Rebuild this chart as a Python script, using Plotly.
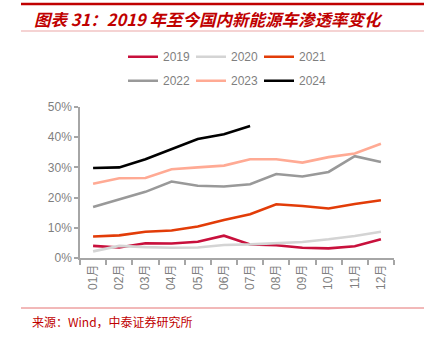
import plotly.graph_objects as go

# Monthly NEV penetration rate in China, %
months = ["01月", "02月", "03月", "04月", "05月", "06月",
          "07月", "08月", "09月", "10月", "11月", "12月"]
rate_2019 = [4.0, 3.5, 4.9, 4.8, 5.4, 7.4, 4.5, 4.2, 3.4, 3.2, 3.9, 6.2]
rate_2020 = [2.2, 4.0, 3.6, 3.4, 3.5, 4.3, 4.5, 4.9, 5.3, 6.2, 7.3, 8.7]
rate_2021 = [7.1, 7.5, 8.7, 9.1, 10.4, 12.6, 14.5, 17.8, 17.2, 16.4, 17.9, 19.1]
rate_2022 = [16.9, 19.3, 21.9, 25.3, 23.9, 23.7, 24.4, 27.8, 27.0, 28.5, 33.7, 31.8]
rate_2023 = [24.6, 26.4, 26.5, 29.4, 30.0, 30.6, 32.7, 32.7, 31.6, 33.4, 34.6, 37.8]
rate_2024 = [29.8, 30.0, 32.7, 36.0, 39.4, 41.0, 43.7]

series = [
    ("2019", rate_2019, "#C8103C", "legend"),
    ("2020", rate_2020, "#D4D4D4", "legend"),
    ("2021", rate_2021, "#E23C08", "legend"),
    ("2022", rate_2022, "#999999", "legend2"),
    ("2023", rate_2023, "#FFAA94", "legend2"),
    ("2024", rate_2024, "#000000", "legend2"),
]

W, H = 431, 338
fig = go.Figure()
for name, vals, color, lg in series:
    fig.add_trace(go.Scatter(
        x=months[:len(vals)], y=vals, name=name, mode="lines",
        line=dict(color=color, width=2.6), legend=lg,
    ))

grey = "#7F7F7F"
axis_line = "#A6A6A6"
base_font = dict(family="Liberation Sans, Arial, sans-serif", size=12, color=grey)

legend_common = dict(
    orientation="h", xref="container", yref="container",
    xanchor="left", yanchor="middle", font=base_font,
    bgcolor="rgba(0,0,0,0)", entrywidth=23, entrywidthmode="pixels",
    tracegroupgap=0, itemwidth=30,
)

fig.update_layout(
    width=W, height=H,
    margin=dict(l=80, r=37, t=107, b=80, autoexpand=False),
    paper_bgcolor="white", plot_bgcolor="white",
    font=base_font,
    showlegend=True,
    legend=dict(**legend_common, x=123 / W, y=1 - 56.7 / H),
    legend2=dict(**legend_common, x=123 / W, y=1 - 80.7 / H),
    xaxis=dict(
        type="category", categoryorder="array", categoryarray=months,
        range=[-0.5, 11.5], tickangle=-90, tickson="boundaries",
        ticks="outside", ticklen=5, tickcolor=axis_line, tickwidth=1.5,
        showline=True, linecolor=axis_line, linewidth=1.5,
        showgrid=False, tickfont=dict(family="Liberation Sans, Noto Sans CJK SC", size=12, color=grey),
    ),
    yaxis=dict(
        range=[0, 50], dtick=10, ticksuffix="%",
        ticks="outside", ticklen=4, tickcolor=axis_line, tickwidth=1.5,
        showline=True, linecolor=axis_line, linewidth=1.5,
        showgrid=False, zeroline=False,
        tickfont=dict(family="Liberation Sans, Arial", size=12, color=grey),
    ),
)

# Header and footer rules
fig.add_shape(type="line", xref="paper", yref="paper",
              x0=-59 / 314, x1=344 / 314, y0=1 + (107 - 4) / 151, y1=1 + (107 - 4) / 151,
              line=dict(color="#C00000", width=2.5))
fig.add_shape(type="line", xref="paper", yref="paper",
              x0=-59 / 314, x1=344 / 314, y0=1 + (107 - 31) / 151, y1=1 + (107 - 31) / 151,
              line=dict(color="#F2C4C4", width=1.5))
fig.add_shape(type="line", xref="paper", yref="paper",
              x0=-59 / 314, x1=344 / 314, y0=-(308 - 258) / 151, y1=-(308 - 258) / 151,
              line=dict(color="#E57373", width=1))

fig.add_annotation(
    xref="paper", yref="paper", x=-48 / 314, y=1 + (107 - 19) / 151,
    xanchor="left", yanchor="middle", showarrow=False,
    text="<b><i>图表 31：2019 年至今国内新能源车渗透率变化</i></b>",
    font=dict(family="Noto Sans CJK SC, Liberation Sans", size=16.5, color="#C00000"),
)
fig.add_annotation(
    xref="paper", yref="paper", x=-50 / 314, y=-(321 - 258) / 151,
    xanchor="left", yanchor="middle", showarrow=False,
    text="来源：Wind，中泰证券研究所",
    font=dict(family="Noto Sans CJK SC, Liberation Sans", size=12, color="#C00000"),
)

fig.write_html("out.html")
